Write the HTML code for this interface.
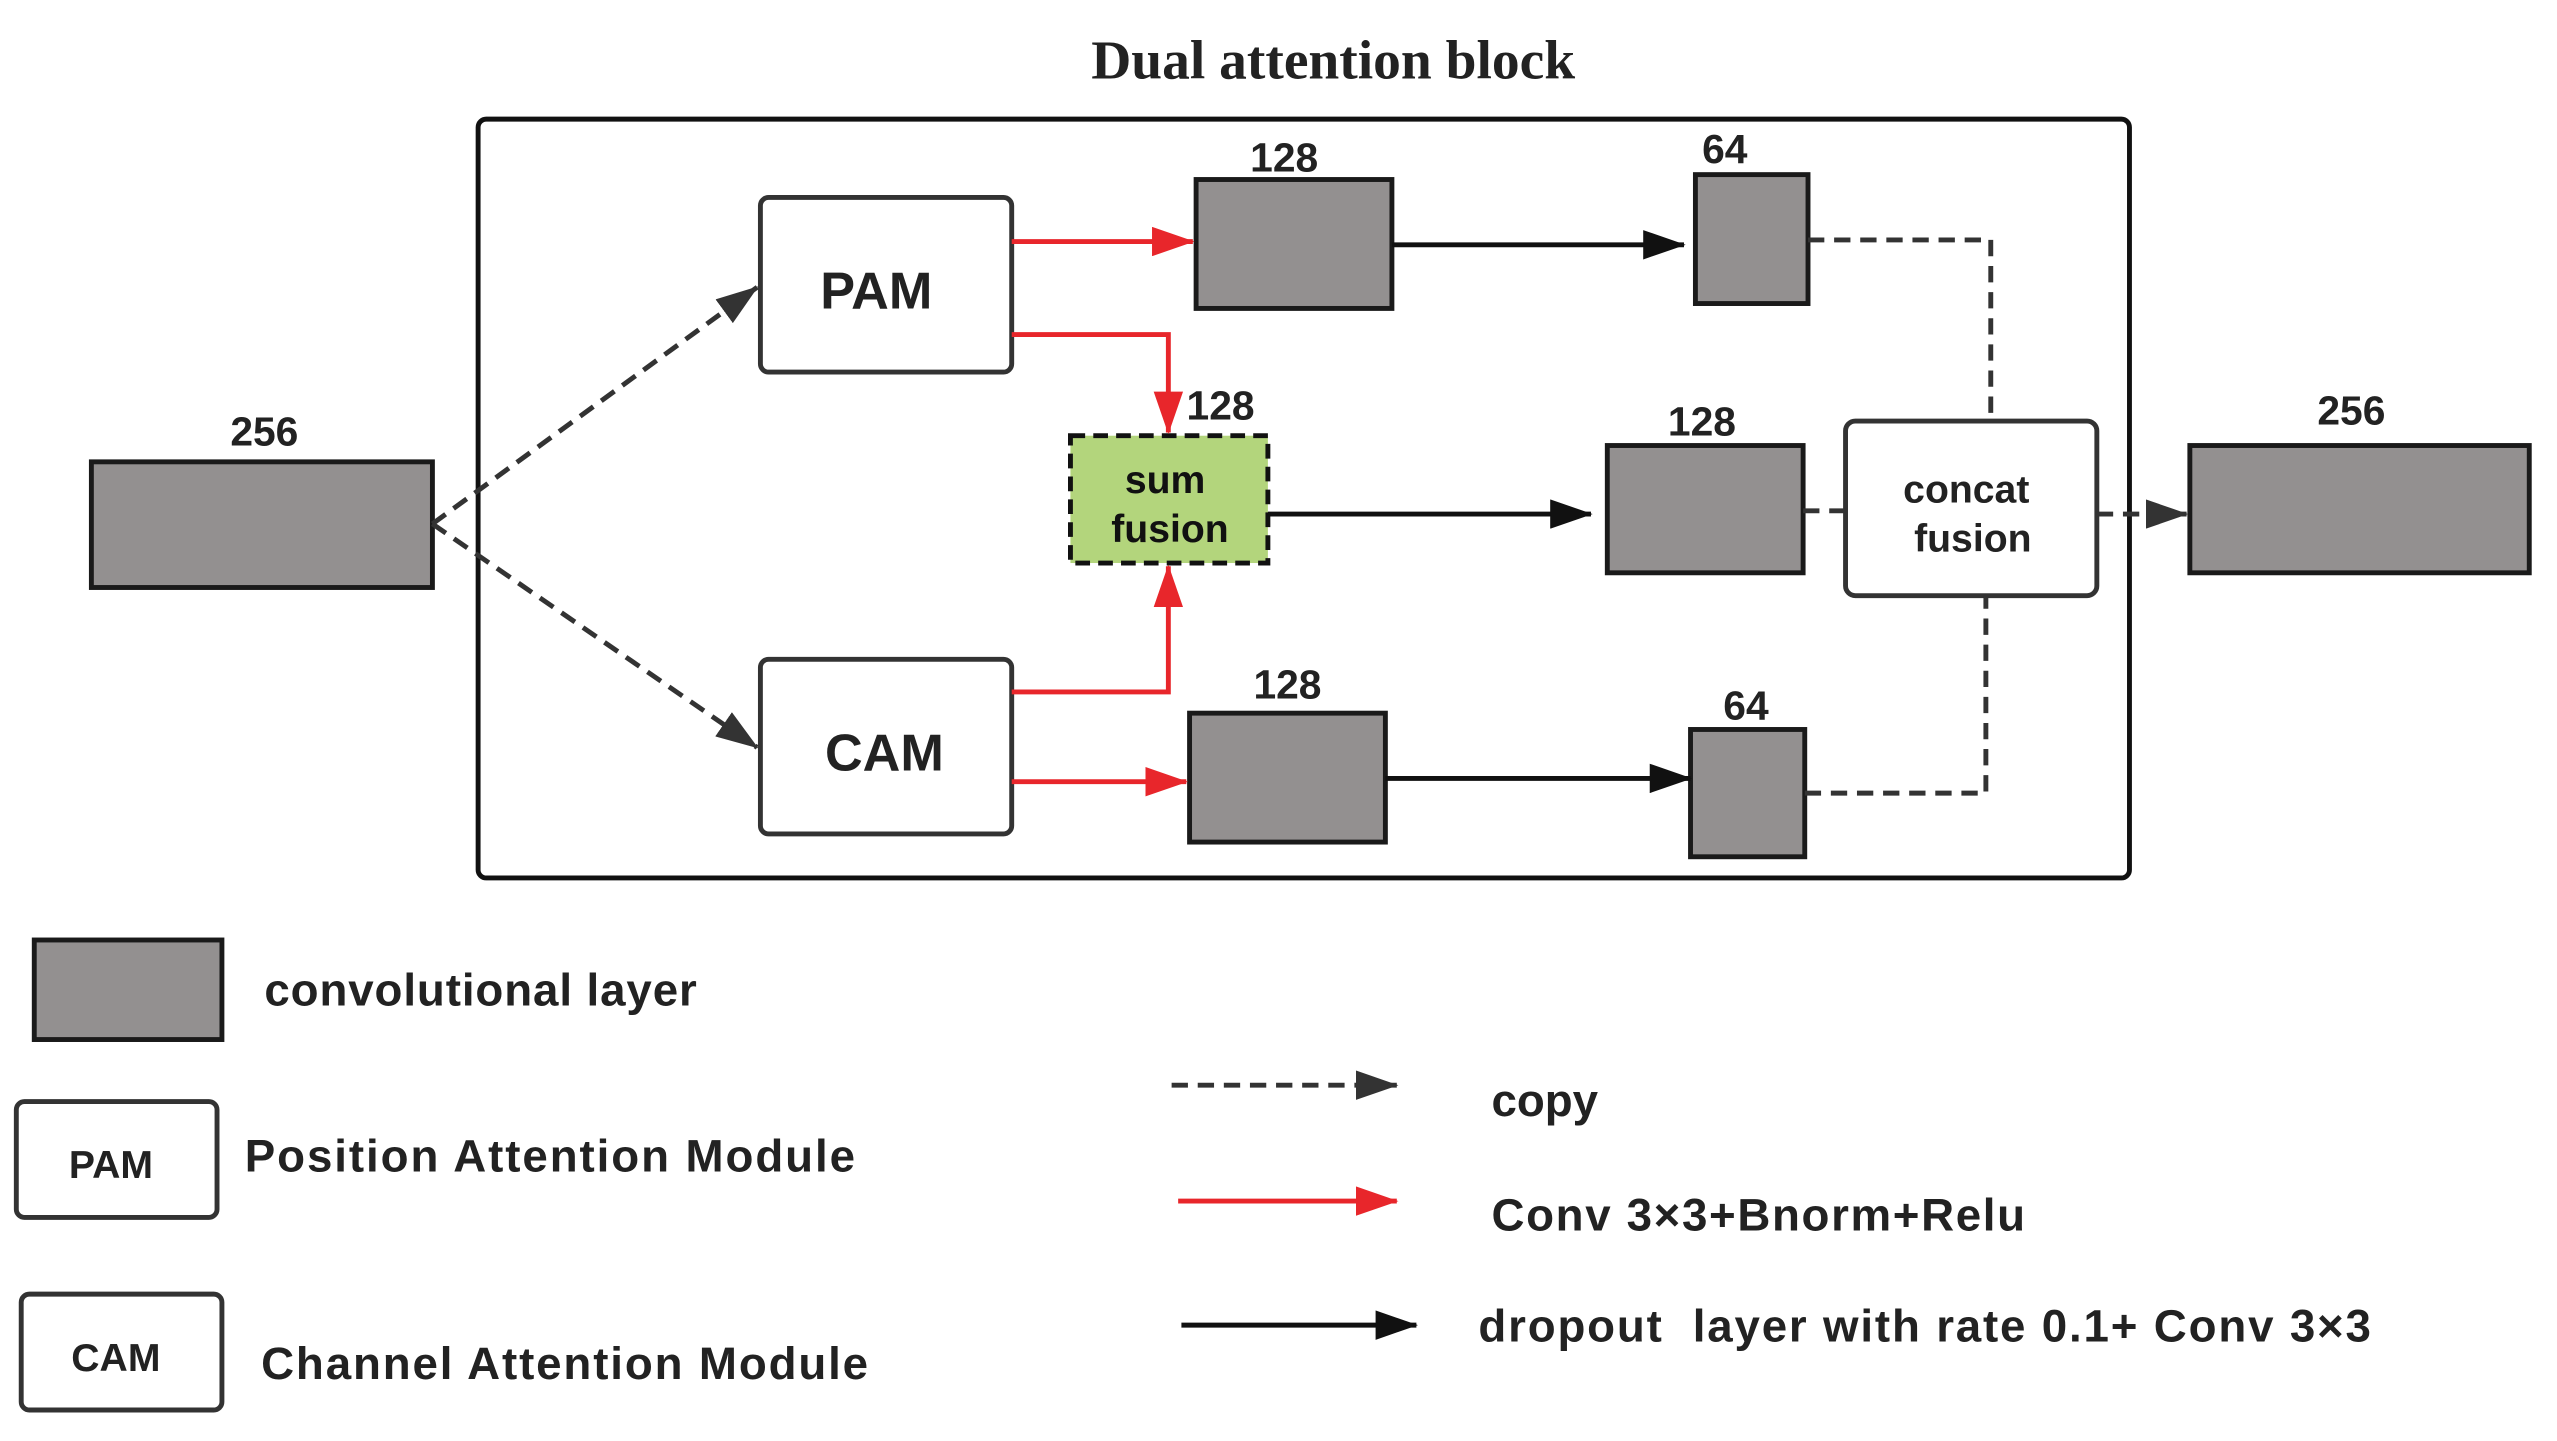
<!DOCTYPE html>
<html><head><meta charset="utf-8"><style>
html,body{margin:0;padding:0;background:#fff;}
svg{display:block;}
text{font-family:"Liberation Sans","Noto Sans CJK SC",sans-serif;font-weight:bold;fill:#222;}
</style></head><body>
<svg width="2557" height="1441" viewBox="0 0 1567 883" preserveAspectRatio="none" xmlns="http://www.w3.org/2000/svg">
<defs>
<marker id="akb" markerWidth="26" markerHeight="18" refX="25" refY="9" orient="auto" markerUnits="userSpaceOnUse"><path d="M0,0 L26,9 L0,18 Z" fill="#111"/></marker>
<marker id="arb" markerWidth="26" markerHeight="18" refX="25" refY="9" orient="auto" markerUnits="userSpaceOnUse"><path d="M0,0 L26,9 L0,18 Z" fill="#e8262b"/></marker>
<marker id="ad" markerWidth="26" markerHeight="18" refX="25" refY="9" orient="auto" markerUnits="userSpaceOnUse"><path d="M0,0 L26,9 L0,18 Z" fill="#333"/></marker>
</defs>
<text x="817" y="48" text-anchor="middle" style="font-family:'Liberation Serif',serif;font-size:34px">Dual attention block</text>
<rect x="293" y="73" width="1012" height="465" rx="5" fill="none" stroke="#111" stroke-width="3"/>
<g fill="#939090" stroke="#1a1a1a" stroke-width="3">
<rect x="56" y="283" width="209" height="77"/>
<rect x="733" y="110" width="120" height="79"/>
<rect x="1039" y="107" width="69" height="79"/>
<rect x="985" y="273" width="120" height="78"/>
<rect x="1342" y="273" width="208" height="78"/>
<rect x="729" y="437" width="120" height="79"/>
<rect x="1036" y="447" width="70" height="78"/>
<rect x="21" y="576" width="115" height="61"/>
</g>
<g fill="#fff" stroke="#333" stroke-width="3">
<rect x="466" y="121" width="154" height="107" rx="5"/>
<rect x="466" y="404" width="154" height="107" rx="5"/>
<rect x="1131" y="258" width="154" height="107" rx="6"/>
<rect x="10" y="675" width="123" height="71" rx="5"/>
<rect x="13" y="793" width="123" height="71" rx="5"/>
</g>
<rect x="656" y="267" width="121" height="78" fill="#b3d57c" stroke="#111" stroke-width="3" stroke-dasharray="9,5"/>
<g font-size="25" text-anchor="middle">
<text x="162" y="273">256</text><text x="787" y="105">128</text><text x="1057" y="100">64</text>
<text x="748" y="257">128</text><text x="1043" y="267">128</text><text x="1441" y="260">256</text>
<text x="789" y="428">128</text><text x="1070" y="441">64</text>
</g>
<text x="537" y="189" font-size="32" text-anchor="middle">PAM</text>
<text x="542" y="472" font-size="32" text-anchor="middle">CAM</text>
<text x="714" y="302" font-size="24" text-anchor="middle" style="fill:#111">sum</text>
<text x="717" y="332" font-size="24" text-anchor="middle" style="fill:#111">fusion</text>
<text x="1205" y="308" font-size="24" text-anchor="middle">concat</text>
<text x="1209" y="338" font-size="24" text-anchor="middle">fusion</text>
<g fill="none" stroke-width="3">
<path d="M265,321 L464,176" stroke="#333" stroke-dasharray="10,6" marker-end="url(#ad)"/>
<path d="M265,321 L464,458" stroke="#333" stroke-dasharray="10,6" marker-end="url(#ad)"/>
<path d="M620,148 L731,148" stroke="#e8262b" marker-end="url(#arb)"/>
<path d="M620,205 L716,205 L716,265" stroke="#e8262b" marker-end="url(#arb)"/>
<path d="M620,424 L716,424 L716,347" stroke="#e8262b" marker-end="url(#arb)"/>
<path d="M620,479 L727,479" stroke="#e8262b" marker-end="url(#arb)"/>
<path d="M853,150 L1032,150" stroke="#111" marker-end="url(#akb)"/>
<path d="M777,315 L975,315" stroke="#111" marker-end="url(#akb)"/>
<path d="M849,477 L1036,477" stroke="#111" marker-end="url(#akb)"/>
<path d="M1108,147 L1220,147 L1220,258" stroke="#333" stroke-dasharray="10,6"/>
<path d="M1105,313 L1131,313" stroke="#333" stroke-dasharray="10,6"/>
<path d="M1285,315 L1340,315" stroke="#333" stroke-dasharray="10,6" marker-end="url(#ad)"/>
<path d="M1106,486 L1217,486 L1217,365" stroke="#333" stroke-dasharray="10,6"/>
<path d="M718,665 L856,665" stroke="#333" stroke-dasharray="10,6" marker-end="url(#ad)"/>
<path d="M722,736 L856,736" stroke="#e8262b" marker-end="url(#arb)"/>
<path d="M724,812 L868,812" stroke="#111" marker-end="url(#akb)"/>
</g>
<text x="162" y="616" font-size="28" textLength="265">convolutional layer</text>
<text x="68" y="722" font-size="24" text-anchor="middle">PAM</text>
<text x="150" y="718" font-size="28" textLength="374">Position Attention Module</text>
<text x="71" y="840" font-size="24" text-anchor="middle">CAM</text>
<text x="160" y="845" font-size="28" textLength="372">Channel Attention Module</text>
<text x="914" y="684" font-size="28">copy</text>
<text x="914" y="754" font-size="28" textLength="327">Conv 3×3+Bnorm+Relu</text>
<text x="906" y="822" font-size="28" xml:space="preserve" textLength="547">dropout  layer with rate 0.1+ Conv 3×3</text>
</svg>
</body></html>
